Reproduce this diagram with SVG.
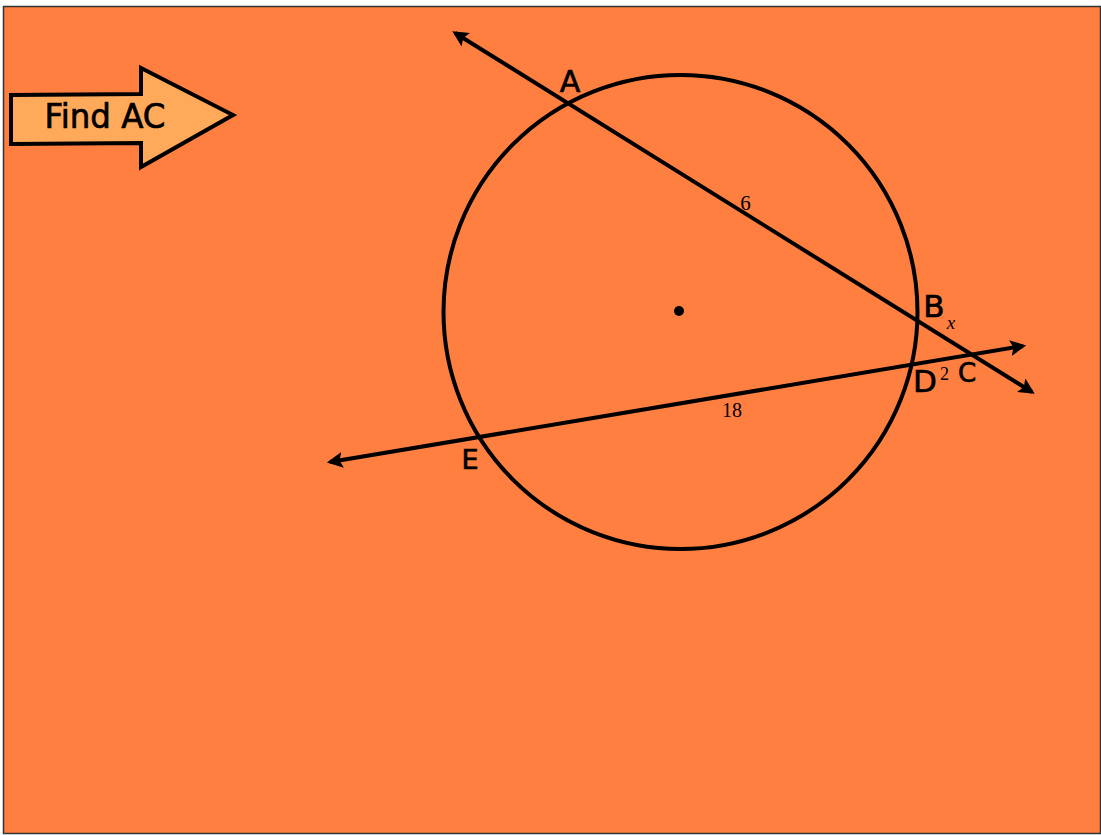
<svg xmlns="http://www.w3.org/2000/svg" width="1101" height="835" viewBox="0 0 1101 835">
<style>
.ln{stroke:#000;stroke-width:4;fill:none}
.lbl{font-family:"DejaVu Sans","Liberation Sans",sans-serif;fill:#000;stroke:#000;stroke-width:0.7;text-anchor:middle}
.num{font-family:"Liberation Serif",serif;fill:#000;text-anchor:middle}
</style>
<defs>
<marker id="ah" viewBox="0 0 10 10" refX="8" refY="5" markerWidth="4" markerHeight="4" orient="auto-start-reverse" markerUnits="strokeWidth">
<path d="M0,0 L10,5 L0,10 L2,5 z" fill="#000"/>
</marker>
</defs>
<rect x="3.5" y="6.5" width="1097" height="827" fill="#FF7F40" stroke="#333" stroke-width="1.5"/>
<g id="find-ac">
<polygon points="11,95 141,94 141,68 233,115 141,167 141,143 11,144" fill="#FFAA5A" stroke="#000" stroke-width="4" stroke-linejoin="miter"/>
<text x="105" y="128" class="lbl" style="font-size:33px" textLength="121" lengthAdjust="spacingAndGlyphs">Find AC</text>
</g>
<g id="circle">
<circle cx="680.5" cy="312" r="237" class="ln"/>
<circle cx="679" cy="311" r="5" fill="#000"/>
</g>
<g id="connectors">
<line x1="455" y1="33" x2="1032" y2="392" class="ln" marker-start="url(#ah)" marker-end="url(#ah)"/>
<line x1="330" y1="462" x2="1023" y2="346" class="ln" marker-start="url(#ah)" marker-end="url(#ah)"/>
</g>
<g id="labels">
<text x="570" y="92" class="lbl" style="font-size:30px">A</text>
<text x="934" y="317" class="lbl" style="font-size:31px">B</text>
<text x="967" y="382" class="lbl" style="font-size:26px">C</text>
<text x="925" y="392" class="lbl" style="font-size:31px">D</text>
<text x="470" y="469" class="lbl" style="font-size:27px">E</text>
<text x="745.5" y="210" class="num" style="font-size:21px">6</text>
<text x="951" y="329" class="num" style="font-size:19px;font-style:italic">x</text>
<text x="944.5" y="380" class="num" style="font-size:18px">2</text>
<text x="732" y="417" class="num" style="font-size:20px">18</text>
</g>
</svg>
